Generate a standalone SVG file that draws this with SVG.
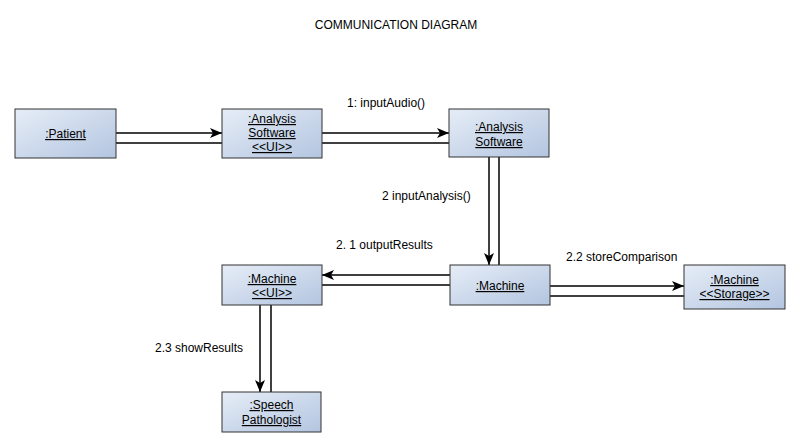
<svg xmlns="http://www.w3.org/2000/svg" width="799" height="446" viewBox="0 0 799 446">
<defs>
<linearGradient id="g" x1="0" y1="0" x2="1" y2="1">
<stop offset="0" stop-color="#e6edf7"/>
<stop offset="1" stop-color="#b3c5e0"/>
</linearGradient>
<marker id="ah" viewBox="0 0 12 10" refX="12" refY="5" markerWidth="12" markerHeight="10" markerUnits="userSpaceOnUse" orient="auto">
<path d="M0,0 L12,5 L0,10 L3,5 Z" fill="#000"/>
</marker>
</defs>
<style>
.box{fill:url(#g);stroke:#333;stroke-width:1}
.t{font-family:"Liberation Sans",Arial,sans-serif;font-size:12px;fill:#000;text-anchor:middle;text-decoration:underline}
.l{font-family:"Liberation Sans",Arial,sans-serif;font-size:12px;fill:#000}
.c{stroke:#000;stroke-width:1.5;fill:none}
</style>
<rect width="799" height="446" fill="#fff"/>
<text x="396" y="29" class="l" text-anchor="middle" font-size="12.5">COMMUNICATION DIAGRAM</text>

<g id="connectors">
<line class="c" x1="116" y1="133" x2="222" y2="133" marker-end="url(#ah)"/>
<line class="c" x1="116" y1="143" x2="222" y2="143"/>
<line class="c" x1="322" y1="133" x2="449" y2="133" marker-end="url(#ah)"/>
<line class="c" x1="322" y1="143" x2="449" y2="143"/>
<line class="c" x1="489" y1="157" x2="489" y2="265" marker-end="url(#ah)"/>
<line class="c" x1="499" y1="157" x2="499" y2="265"/>
<line class="c" x1="450" y1="275" x2="322" y2="275" marker-end="url(#ah)"/>
<line class="c" x1="450" y1="285" x2="322" y2="285"/>
<line class="c" x1="550" y1="286" x2="684" y2="286" marker-end="url(#ah)"/>
<line class="c" x1="550" y1="296" x2="684" y2="296"/>
<line class="c" x1="260" y1="305" x2="260" y2="392" marker-end="url(#ah)"/>
<line class="c" x1="271" y1="305" x2="271" y2="392"/>
<text class="l" x="347" y="107">1: inputAudio()</text>
<text class="l" x="382" y="200">2 inputAnalysis()</text>
<text class="l" x="336" y="249">2. 1 outputResults</text>
<text class="l" x="566" y="261">2.2 storeComparison</text>
<text class="l" x="155" y="352">2.3 showResults</text>
</g>

<g id="patient">
<rect class="box" x="15" y="109" width="101" height="49"/>
<text class="t" x="65.5" y="138">:Patient</text>
</g>
<g id="analysisUI">
<rect class="box" x="222" y="109" width="100" height="49"/>
<text class="t" x="272" y="123">:Analysis</text>
<text class="t" x="272" y="137">Software</text>
<text class="t" x="272" y="151">&lt;&lt;UI&gt;&gt;</text>
</g>
<g id="analysisSoftware">
<rect class="box" x="449" y="109" width="100" height="48"/>
<text class="t" x="499" y="131">:Analysis</text>
<text class="t" x="499" y="146">Software</text>
</g>
<g id="machineUI">
<rect class="box" x="222" y="265" width="100" height="40"/>
<text class="t" x="272" y="283">:Machine</text>
<text class="t" x="272" y="297">&lt;&lt;UI&gt;&gt;</text>
</g>
<g id="machine">
<rect class="box" x="450" y="265" width="100" height="40"/>
<text class="t" x="500" y="290">:Machine</text>
</g>
<g id="machineStorage">
<rect class="box" x="684" y="265" width="101" height="44"/>
<text class="t" x="734.5" y="284">:Machine</text>
<text class="t" x="734.5" y="298">&lt;&lt;Storage&gt;&gt;</text>
</g>
<g id="speechPathologist">
<rect class="box" x="222" y="392" width="99" height="40"/>
<text class="t" x="271.5" y="409">:Speech</text>
<text class="t" x="271.5" y="424">Pathologist</text>
</g>
</svg>
